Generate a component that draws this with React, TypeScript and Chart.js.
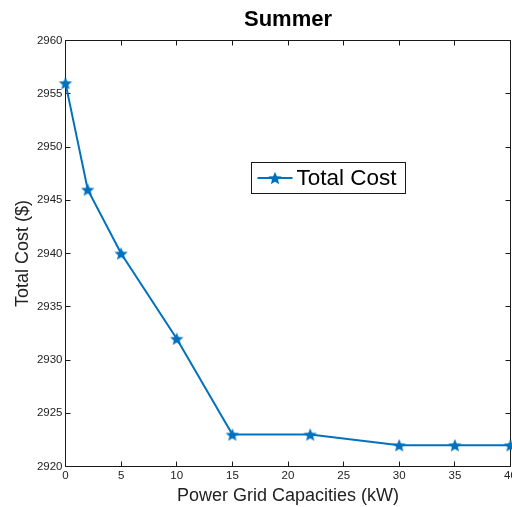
import React, { useEffect, useRef } from 'react';
import { Chart, registerables } from 'chart.js';

Chart.register(...registerables);

// Grid capacity (kW) versus total cost ($) for the summer case
const capacities = [0, 2, 5, 10, 15, 22, 30, 35, 40];
const totalCost = [2956, 2946, 2940, 2932, 2923, 2923, 2922, 2922, 2922];

const seriesLabel = 'Total Cost';
const chartTitle = 'Summer';
const xAxisTitle = 'Power Grid Capacities (kW)';
const yAxisTitle = 'Total Cost ($)';

const xRange = [0, 40];
const yRange = [2920, 2960];
const tickStep = 5;

const LINE_BLUE = '#0072BD';
const AXIS_COLOR = '#1a1a1a';
const FONT = '"Liberation Sans", Arial, Helvetica, sans-serif';

// Filled five-pointed star used as the marker
function makeStar(outer: number, color: string): HTMLCanvasElement {
  const size = Math.ceil(outer * 2) + 2;
  const c = document.createElement('canvas');
  c.width = size;
  c.height = size;
  const ctx = c.getContext('2d')!;
  const cx = size / 2;
  const cy = size / 2 + outer * 0.1;
  const inner = outer * 0.45;
  ctx.beginPath();
  for (let i = 0; i < 10; i++) {
    const a = -Math.PI / 2 + (i * Math.PI) / 5;
    const r = i % 2 === 0 ? outer : inner;
    const px = cx + r * Math.cos(a);
    const py = cy + r * Math.sin(a);
    if (i === 0) ctx.moveTo(px, py);
    else ctx.lineTo(px, py);
  }
  ctx.closePath();
  ctx.fillStyle = color;
  ctx.fill();
  return c;
}

// Box around the plot area with inward tick marks on all four sides
const boxAxesPlugin = {
  id: 'boxAxes',
  beforeDatasetsDraw(chart: any) {
    const { ctx, chartArea } = chart;
    const { left, right, top, bottom } = chartArea;
    const xs = chart.scales.x;
    const ys = chart.scales.y;
    const tick = 5;
    ctx.save();
    ctx.strokeStyle = AXIS_COLOR;
    ctx.lineWidth = 1;
    ctx.beginPath();
    ctx.rect(left, top, right - left, bottom - top);
    ctx.stroke();
    ctx.beginPath();
    xs.ticks.forEach((t: any) => {
      const px = Math.floor(xs.getPixelForValue(t.value)) + 0.5;
      ctx.moveTo(px, bottom);
      ctx.lineTo(px, bottom - tick);
      ctx.moveTo(px, top);
      ctx.lineTo(px, top + tick);
    });
    ys.ticks.forEach((t: any) => {
      const py = Math.floor(ys.getPixelForValue(t.value)) + 0.5;
      ctx.moveTo(left, py);
      ctx.lineTo(left + tick, py);
      ctx.moveTo(right, py);
      ctx.lineTo(right - tick, py);
    });
    ctx.stroke();
    ctx.restore();
  },
};

// Boxed legend placed inside the plot area
const boxedLegendPlugin = {
  id: 'boxedLegend',
  afterDraw(chart: any) {
    const { ctx } = chart;
    const ds = chart.data.datasets[0];
    const bx = 251.5;
    const by = 162.5;
    const bw = 154;
    const bh = 31;
    const cy = by + bh / 2;
    ctx.save();
    ctx.fillStyle = '#ffffff';
    ctx.fillRect(bx, by, bw, bh);
    ctx.strokeStyle = AXIS_COLOR;
    ctx.lineWidth = 1;
    ctx.strokeRect(bx, by, bw, bh);
    ctx.strokeStyle = ds.borderColor;
    ctx.lineWidth = ds.borderWidth;
    ctx.beginPath();
    ctx.moveTo(bx + 6, cy);
    ctx.lineTo(bx + 41, cy);
    ctx.stroke();
    const img = ds.pointStyle as HTMLCanvasElement;
    ctx.drawImage(img, bx + 23.5 - img.width / 2, cy - img.height / 2);
    ctx.fillStyle = '#000000';
    ctx.font = `22.5px ${FONT}`;
    ctx.textAlign = 'left';
    ctx.textBaseline = 'middle';
    ctx.fillText(ds.label, bx + 45, cy + 1);
    ctx.restore();
  },
};

const zeroPadding = () => ({ left: 0, top: 0, right: 0, bottom: 0 });

export default function App() {
  const canvasRef = useRef<HTMLCanvasElement | null>(null);

  useEffect(() => {
    const canvas = canvasRef.current;
    if (!canvas) return;
    const star = makeStar(7, LINE_BLUE);

    const chart = new Chart(canvas, {
      type: 'line',
      data: {
        datasets: [
          {
            label: seriesLabel,
            data: capacities.map((x, i) => ({ x, y: totalCost[i] })),
            borderColor: LINE_BLUE,
            backgroundColor: LINE_BLUE,
            borderWidth: 2,
            pointStyle: star as any,
            pointRadius: 7,
            tension: 0,
            clip: false as any,
          },
        ],
      },
      options: {
        responsive: false,
        animation: false,
        devicePixelRatio: 1,
        layout: { autoPadding: false, padding: { top: 0, right: 1.5, bottom: 0, left: 0 } },
        plugins: {
          legend: { display: false },
          tooltip: { enabled: false },
          title: {
            display: true,
            text: chartTitle,
            color: '#000000',
            fullSize: false,
            font: { family: FONT, size: 22, weight: 'bold', lineHeight: 1.2 },
            padding: { top: 7.05, bottom: 7.05 },
          },
        },
        scales: {
          x: {
            type: 'linear',
            min: xRange[0],
            max: xRange[1],
            grid: { display: false, drawTicks: false },
            border: { display: false },
            ticks: {
              stepSize: tickStep,
              color: '#222222',
              padding: 2.5,
              maxRotation: 0,
              autoSkip: false,
              font: { family: FONT, size: 11.5 },
              callback: (v: any) => String(v),
            },
            title: {
              display: true,
              text: xAxisTitle,
              color: '#222222',
              font: { family: FONT, size: 18, lineHeight: 1.2 },
              padding: { top: 0, bottom: 0 },
            },
            afterFit(scale: any) {
              scale.height = 40.5;
              scale.paddingLeft = 0;
              scale.paddingRight = 0;
              scale.getPadding = zeroPadding;
            },
          },
          y: {
            type: 'linear',
            min: yRange[0],
            max: yRange[1],
            grid: { display: false, drawTicks: false },
            border: { display: false },
            ticks: {
              stepSize: tickStep,
              color: '#222222',
              padding: 3,
              font: { family: FONT, size: 11.5 },
              callback: (v: any) => String(v),
            },
            title: {
              display: true,
              text: yAxisTitle,
              color: '#222222',
              font: { family: FONT, size: 18, lineHeight: 1.2 },
              padding: { top: 12, bottom: 0 },
            },
            afterFit(scale: any) {
              scale.width = 65.5;
              scale.paddingTop = 0;
              scale.paddingBottom = 0;
              scale.getPadding = zeroPadding;
            },
          },
        },
      },
      plugins: [boxAxesPlugin, boxedLegendPlugin],
    });

    return () => chart.destroy();
  }, []);

  return (
    <div
      style={{
        position: 'fixed',
        left: 0,
        top: 0,
        width: 512,
        height: 507,
        background: '#ffffff',
        overflow: 'hidden',
      }}
    >
      <canvas ref={canvasRef} width={512} height={507} style={{ display: 'block' }} />
    </div>
  );
}
